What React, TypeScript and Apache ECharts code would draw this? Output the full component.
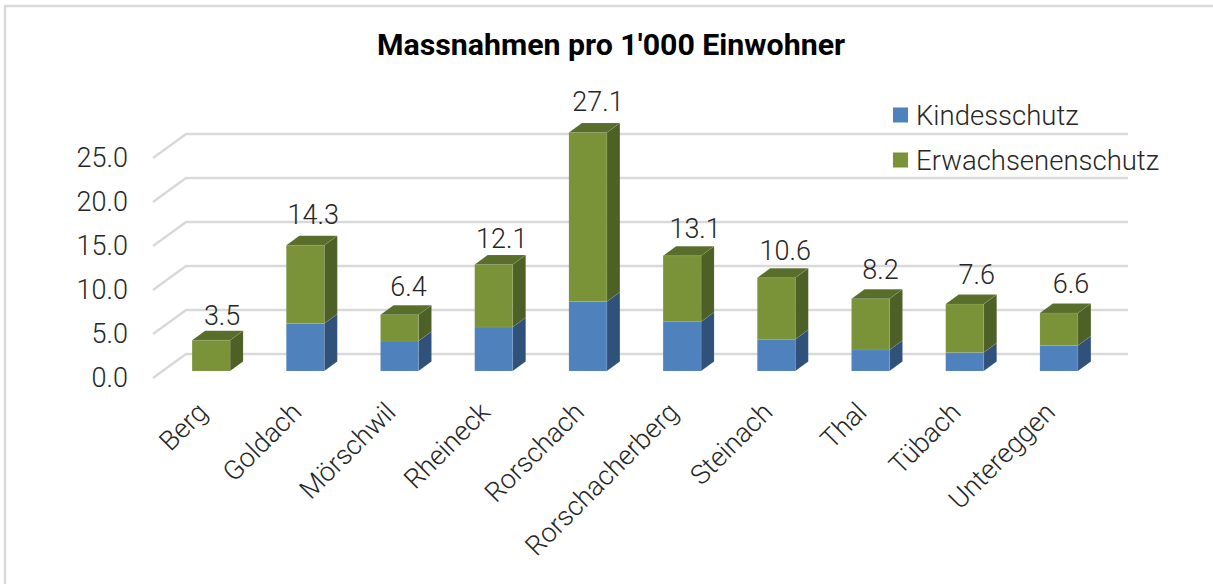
import React, { useEffect, useRef } from "react";
import * as echarts from "echarts";

const categories = ["Berg", "Goldach", "Mörschwil", "Rheineck", "Rorschach", "Rorschacherberg", "Steinach", "Thal", "Tübach", "Untereggen"];
const kindesschutz = [0, 5.4, 3.4, 5.0, 7.9, 5.6, 3.6, 2.4, 2.1, 2.9];
const erwachsenenschutz = [3.5, 8.9, 3.0, 7.1, 19.2, 7.5, 7.0, 5.8, 5.5, 3.7];
const totals = [3.5, 14.3, 6.4, 12.1, 27.1, 13.1, 10.6, 8.2, 7.6, 6.6];
const yTicks = [0, 5, 10, 15, 20, 25];

const labelNudgeX = [1, -2, -1, -2, 0, 3, -1, 0, 2, 2];
const labelNudgeY = [4, -2, 0, 2, -3, 1, 1, -1, -1, -1];

const FONT = "Roboto";
const TEXT = "#262626";
const GRID = "#d9d9d9";
const BAR_W = 38;
const DX = 13;
const DY = -9.5;
const LIFT = -7;
const WALL_DX = 33;
const WALL_DY = -24;
const WALL_LEFT = -11;

const poly = (points: number[][], fill: string) => ({
  type: "polygon",
  shape: { points },
  style: { fill, stroke: "rgba(255,255,255,0.12)", lineWidth: 0.6 },
});

const barRenderer = (base: number[], values: number[], front: string, side: string, top: string | null) =>
  (params: any, api: any) => {
    const i = params.dataIndex;
    const p0 = api.coord([i, base[i]]);
    const p1 = api.coord([i, base[i] + values[i]]);
    const x0 = p0[0] - BAR_W / 2;
    const x1 = p0[0] + BAR_W / 2;
    const y0 = p0[1] + LIFT;
    const y1 = p1[1] + LIFT;
    const children: any[] = [];
    if (values[i] > 0) {
      children.push(poly([[x1, y0], [x1 + DX, y0 + DY], [x1 + DX, y1 + DY], [x1, y1]], side));
      children.push(poly([[x0, y0], [x1, y0], [x1, y1], [x0, y1]], front));
      if (top) children.push(poly([[x0, y1], [x1, y1], [x1 + DX, y1 + DY], [x0 + DX, y1 + DY]], top));
    }
    return { type: "group", children };
  };

export default function App() {
  const ref = useRef<HTMLDivElement>(null);
  useEffect(() => {
    const chart = echarts.init(ref.current!, null, { renderer: "svg" });
    chart.setOption({
      animation: false,
      backgroundColor: "#fff",
      textStyle: { fontFamily: FONT },
      title: {
        text: "Massnahmen pro 1'000 Einwohner",
        left: 606,
        top: 24,
        textAlign: "center",
        textStyle: { fontFamily: FONT, fontWeight: "bold", fontSize: 30.3, color: "#000" },
      },
      legend: {
        orient: "vertical",
        left: 888,
        top: 95,
        itemWidth: 15,
        itemHeight: 15,
        itemGap: 15,
        icon: "rect",
        data: ["Kindesschutz", "Erwachsenenschutz"],
        textStyle: { fontFamily: FONT, fontWeight: 300, fontSize: 27.5, lineHeight: 30, color: TEXT, padding: [0, 0, 0, 3] },
      },
      grid: { left: 164, width: 942, top: 158, height: 220 },
      xAxis: {
        type: "category",
        data: categories,
        axisLine: { show: false },
        axisTick: { show: false },
        splitLine: { show: false },
        axisLabel: { interval: 0, rotate: 45, margin: 21, padding: [0, 12, 0, 0], fontFamily: FONT, fontWeight: 300, fontSize: 27, color: TEXT },
      },
      yAxis: {
        type: "value",
        min: 0,
        max: 25,
        interval: 5,
        axisLine: { show: false },
        axisTick: { show: false },
        splitLine: { show: false },
        axisLabel: {
          margin: 36,
          padding: [3, 0, 0, 0],
          fontFamily: FONT,
          fontWeight: 300,
          fontSize: 27,
          color: TEXT,
          formatter: (v: number) => v.toFixed(1),
        },
      },
      graphic: [
        { type: "line", shape: { x1: 5, y1: 584, x2: 5, y2: 6 }, style: { stroke: GRID, lineWidth: 2.5 } },
        { type: "line", shape: { x1: 4, y1: 6, x2: 1213, y2: 6 }, style: { stroke: GRID, lineWidth: 2.5 } },
      ],
      series: [
        {
          type: "custom",
          name: "wall",
          silent: true,
          z: 1,
          data: yTicks.map((t) => [0, t]),
          encode: { x: 0, y: 1 },
          renderItem: (params: any, api: any) => {
            const y = api.coord([0, api.value(1)])[1];
            const xl = params.coordSys.x + WALL_LEFT;
            const xr = params.coordSys.x + params.coordSys.width + WALL_LEFT + WALL_DX;
            return {
              type: "polyline",
              shape: { points: [[xl, y], [xl + WALL_DX, y + WALL_DY], [xr, y + WALL_DY]] },
              style: { stroke: GRID, lineWidth: 2.5, fill: "none" },
            };
          },
        },
        {
          type: "custom",
          name: "Kindesschutz",
          z: 2,
          itemStyle: { color: "#4f81bd" },
          data: categories.map((_, i) => [i, kindesschutz[i]]),
          encode: { x: 0, y: 1 },
          renderItem: barRenderer(categories.map(() => 0), kindesschutz, "#4f81bd", "#30527a", null),
        },
        {
          type: "custom",
          name: "Erwachsenenschutz",
          z: 3,
          itemStyle: { color: "#7a9339" },
          data: categories.map((_, i) => [i, kindesschutz[i] + erwachsenenschutz[i]]),
          encode: { x: 0, y: 1 },
          renderItem: barRenderer(kindesschutz, erwachsenenschutz, "#7a9339", "#4d6026", "#5a6e2c"),
        },
        {
          type: "custom",
          name: "Summe",
          silent: true,
          z: 4,
          data: categories.map((_, i) => [i, totals[i]]),
          encode: { x: 0, y: 1 },
          renderItem: (params: any, api: any) => {
            const i = params.dataIndex;
            const p = api.coord([i, totals[i]]);
            return {
              type: "text",
              x: p[0] + 10 + labelNudgeX[i],
              y: p[1] + LIFT + DY - 18.5 + labelNudgeY[i],
              style: {
                text: totals[i].toFixed(1),
                fontFamily: FONT,
                fontWeight: 300,
                fontSize: 27,
                fill: TEXT,
                align: "center",
                verticalAlign: "middle",
              },
            };
          },
        },
      ],
    });
    return () => chart.dispose();
  }, []);
  return <div ref={ref} style={{ position: "fixed", left: 0, top: 0, width: 1213, height: 584 }} />;
}
